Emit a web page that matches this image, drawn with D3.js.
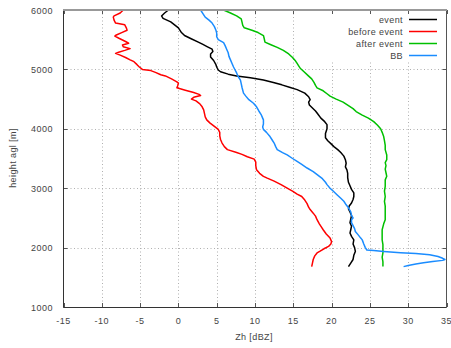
<!DOCTYPE html>
<html>
<head>
<meta charset="utf-8">
<script src="https://cdn.jsdelivr.net/npm/d3@7"></script>
<style>
html,body{margin:0;padding:0;background:#fff;}
svg{display:block;font-family:"Liberation Sans",Arial,sans-serif;}
</style>
</head>
<body>
<svg id="chart" width="451" height="348"></svg>
<script>
// ---- data: [height m, Zh dBZ] ----
const seriesNames = ["event", "before event", "after event", "BB"];
const seriesColors = ["#000000", "#ff0000", "#00c000", "#1a8cff"];
const xTicks = [-15, -10, -5, 0, 5, 10, 15, 20, 25, 30, 35];
const yTicks = [1000, 2000, 3000, 4000, 5000, 6000];

const eventData = [[6000,-1.3],[5950,-1.8],[5900,-2.2],[5860,-2.0],[5800,-1.0],[5700,0.0],[5620,0.4],[5570,0.8],[5520,1.6],[5460,2.6],[5420,3.2],[5380,3.8],[5340,4.4],[5300,4.5],[5260,4.2],[5210,4.2],[5150,4.6],[5080,4.9],[5040,5.0],[4990,5.2],[4960,5.5],[4920,6.5],[4890,7.6],[4860,9.4],[4820,11.1],[4780,12.4],[4740,13.5],[4700,14.5],[4660,15.5],[4600,16.5],[4540,17.0],[4490,17.2],[4450,17.0],[4400,17.1],[4350,17.5],[4300,17.9],[4250,18.2],[4180,18.6],[4120,19.1],[4070,19.4],[4000,19.4],[3920,19.2],[3850,19.2],[3800,19.5],[3750,19.9],[3700,20.3],[3650,20.8],[3600,21.2],[3540,21.6],[3480,21.8],[3420,21.9],[3360,21.8],[3310,22.0],[3250,22.1],[3180,22.1],[3100,22.2],[3040,22.4],[2980,22.6],[2920,22.9],[2860,22.9],[2810,22.8],[2750,22.6],[2700,22.3],[2650,22.2],[2600,22.4],[2540,22.6],[2480,22.5],[2420,22.4],[2360,22.6],[2300,22.5],[2245,22.4],[2190,22.6],[2130,22.9],[2060,22.8],[2000,23.0],[1935,23.1],[1870,22.9],[1800,22.8],[1740,22.5],[1680,22.2]];

const beforeData = [[6000,-7.2],[5950,-7.6],[5900,-8.4],[5880,-8.5],[5830,-8.4],[5780,-8.2],[5750,-7.0],[5700,-6.8],[5660,-6.7],[5620,-7.4],[5580,-8.1],[5560,-8.3],[5520,-7.7],[5470,-6.9],[5440,-6.5],[5410,-7.3],[5380,-7.2],[5350,-6.3],[5320,-7.0],[5290,-7.8],[5270,-8.2],[5240,-7.6],[5200,-6.9],[5160,-6.3],[5130,-5.8],[5080,-5.4],[5040,-5.1],[5000,-4.7],[4980,-3.6],[4950,-3.0],[4910,-2.3],[4890,-1.7],[4840,-0.9],[4790,-0.2],[4770,0.0],[4720,-0.1],[4690,-0.2],[4650,0.9],[4610,2.0],[4580,2.7],[4560,2.9],[4530,2.0],[4500,1.7],[4470,2.3],[4420,2.8],[4370,3.1],[4320,3.3],[4260,3.4],[4200,3.5],[4150,3.7],[4100,4.1],[4040,4.7],[3990,5.2],[3940,5.4],[3880,5.4],[3820,5.5],[3760,5.7],[3700,6.0],[3650,6.4],[3600,7.6],[3570,8.3],[3530,9.0],[3490,9.9],[3440,10.1],[3380,10.1],[3310,10.2],[3250,10.6],[3200,11.1],[3170,11.6],[3120,12.5],[3060,13.4],[3000,14.2],[2950,14.9],[2900,15.5],[2860,16.1],[2800,16.5],[2740,16.8],[2680,17.0],[2640,17.2],[2580,17.6],[2530,17.9],[2470,18.1],[2400,18.4],[2340,18.7],[2300,18.9],[2230,19.3],[2160,19.8],[2100,20.0],[2060,19.9],[2020,19.6],[1980,19.0],[1940,18.5],[1910,18.1],[1860,17.8],[1800,17.6],[1740,17.5],[1680,17.4]];

const afterData = [[6000,5.9],[5950,6.8],[5900,7.6],[5850,8.2],[5800,8.3],[5740,8.4],[5700,8.6],[5660,9.6],[5620,10.4],[5570,11.1],[5520,11.2],[5460,11.3],[5420,12.0],[5370,12.9],[5320,13.7],[5260,14.4],[5200,14.9],[5140,15.3],[5100,15.5],[5060,15.7],[5020,15.9],[4960,16.4],[4900,16.9],[4840,17.4],[4780,17.7],[4730,17.9],[4690,18.1],[4640,18.9],[4590,19.4],[4550,19.8],[4500,20.6],[4450,21.5],[4400,22.1],[4340,22.8],[4290,23.2],[4230,24.0],[4180,24.8],[4120,25.5],[4060,26.0],[4000,26.4],[3940,26.6],[3870,26.8],[3800,26.9],[3720,27.0],[3650,27.0],[3560,27.2],[3480,27.2],[3430,27.0],[3380,27.1],[3320,27.0],[3260,27.1],[3200,27.2],[3140,27.0],[3080,27.0],[3030,27.0],[2950,26.9],[2860,27.0],[2780,26.9],[2700,27.0],[2620,27.0],[2530,27.0],[2470,27.0],[2400,26.8],[2300,26.6],[2220,26.6],[2130,26.6],[2050,26.7],[1980,26.7],[1910,26.7],[1840,26.6],[1760,26.7],[1680,26.7]];

const bbData = [[6000,2.9],[5940,3.2],[5880,3.5],[5830,4.0],[5780,4.4],[5720,4.7],[5660,4.9],[5610,5.0],[5550,5.0],[5500,5.2],[5450,5.9],[5400,6.1],[5340,6.3],[5280,6.5],[5220,6.6],[5160,6.8],[5100,7.0],[5040,7.2],[4990,7.4],[4940,7.6],[4880,7.8],[4820,8.1],[4760,8.2],[4700,8.3],[4650,8.4],[4600,8.5],[4550,8.8],[4490,9.2],[4430,9.8],[4370,10.2],[4300,10.5],[4240,10.8],[4180,11.0],[4150,11.1],[4080,11.1],[4030,11.0],[3990,11.1],[3940,11.5],[3880,11.9],[3820,12.2],[3760,12.5],[3700,12.7],[3650,12.9],[3600,13.6],[3560,14.2],[3500,14.9],[3450,15.5],[3400,16.1],[3340,16.8],[3280,17.6],[3220,18.2],[3160,18.8],[3100,19.2],[3060,19.4],[3000,19.8],[2940,20.3],[2890,20.7],[2830,21.2],[2780,21.6],[2720,21.9],[2670,22.2],[2600,22.5],[2540,22.6],[2500,22.8],[2470,22.6],[2420,22.6],[2370,22.8],[2320,23.0],[2270,23.1],[2210,23.5],[2160,23.8],[2130,24.0],[2060,24.2],[2000,24.4],[1960,24.6],[1950,25.5],[1935,26.8],[1915,29.0],[1900,31.0],[1880,32.8],[1850,33.9],[1820,34.5],[1800,34.8],[1785,34.5],[1765,33.2],[1745,32.0],[1725,31.0],[1700,30.0],[1680,29.4]];

const allSeries = [eventData, beforeData, afterData, bbData];

// ---- layout ----
const L = 63.5, R = 446.5, T = 10, B = 307;
const svg = d3.select("#chart");
const x = d3.scaleLinear().domain([-15, 35]).range([L, R]);
const y = d3.scaleLinear().domain([1000, 6000]).range([B, T]);

// grid
const grid = svg.append("g").attr("stroke", "#b0b0b0").attr("stroke-width", 1).attr("stroke-dasharray", "1,2.5");
grid.selectAll(".gx").data(xTicks.slice(1, -1)).enter().append("line")
  .attr("x1", d => Math.round(x(d)) + 0.5).attr("x2", d => Math.round(x(d)) + 0.5)
  .attr("y1", T).attr("y2", B);
grid.selectAll(".gy").data(yTicks.slice(1, -1)).enter().append("line")
  .attr("y1", d => Math.round(y(d)) + 0.5).attr("y2", d => Math.round(y(d)) + 0.5)
  .attr("x1", L).attr("x2", R);

// legend background (covers grid)
svg.append("rect").attr("x", 300).attr("y", 13).attr("width", 145).attr("height", 48).attr("fill", "#fff");

// ticks (inward on all sides)
const tk = svg.append("g").attr("stroke", "#555").attr("stroke-width", 1);
xTicks.forEach(v => {
  const px = Math.round(x(v)) + 0.5;
  tk.append("line").attr("x1", px).attr("x2", px).attr("y1", B).attr("y2", B - 4);
  tk.append("line").attr("x1", px).attr("x2", px).attr("y1", T).attr("y2", T + 4);
});
yTicks.forEach(v => {
  const py = Math.round(y(v)) + 0.5;
  tk.append("line").attr("y1", py).attr("y2", py).attr("x1", L).attr("x2", L + 4);
  tk.append("line").attr("y1", py).attr("y2", py).attr("x1", R).attr("x2", R - 4);
});

// curves
const line = d3.line().x(d => x(d[1])).y(d => y(d[0]));
allSeries.forEach((s, i) => {
  svg.append("path").datum(s).attr("d", line)
    .attr("fill", "none").attr("stroke", seriesColors[i]).attr("stroke-width", 1.5)
    .attr("stroke-linejoin", "round");
});

// border
svg.append("line").attr("x1", L).attr("x2", L).attr("y1", T).attr("y2", B + 0.5).attr("stroke", "#333").attr("stroke-width", 1);
svg.append("line").attr("x1", L).attr("x2", R).attr("y1", B + 0.5).attr("y2", B + 0.5).attr("stroke", "#333").attr("stroke-width", 1);
svg.append("line").attr("x1", R).attr("x2", R).attr("y1", T).attr("y2", B + 0.5).attr("stroke", "#555").attr("stroke-width", 1);
svg.append("line").attr("x1", L - 0.5).attr("x2", R + 0.5).attr("y1", T).attr("y2", T).attr("stroke", "#999").attr("stroke-width", 2);

// tick labels
const txt = svg.append("g").attr("fill", "#444").attr("font-size", "9px");
xTicks.forEach(v => {
  txt.append("text").attr("x", x(v)).attr("y", 324).attr("text-anchor", "middle")
    .attr("letter-spacing", "0.5px").text(v);
});
yTicks.forEach(v => {
  txt.append("text").attr("x", 53).attr("y", y(v) + 3.5).attr("text-anchor", "end")
    .attr("letter-spacing", "0.5px").text(v);
});

// axis titles
txt.append("text").attr("x", 254).attr("y", 340).attr("text-anchor", "middle").attr("letter-spacing", "0.4px").text("Zh [dBZ]");
txt.append("text").attr("transform", "translate(16,158) rotate(-90)").attr("text-anchor", "middle").attr("letter-spacing", "0.4px").text("height agl [m]");

// legend
const legY = [19, 31, 43, 55];
seriesNames.forEach((n, i) => {
  txt.append("text").attr("x", 403).attr("y", legY[i] + 3.5).attr("text-anchor", "end")
    .attr("letter-spacing", "0.4px").text(n);
  svg.append("line").attr("x1", 409).attr("x2", 437).attr("y1", legY[i] + 0.5).attr("y2", legY[i] + 0.5)
    .attr("stroke", seriesColors[i]).attr("stroke-width", 1.5);
});
</script>
</body>
</html>
